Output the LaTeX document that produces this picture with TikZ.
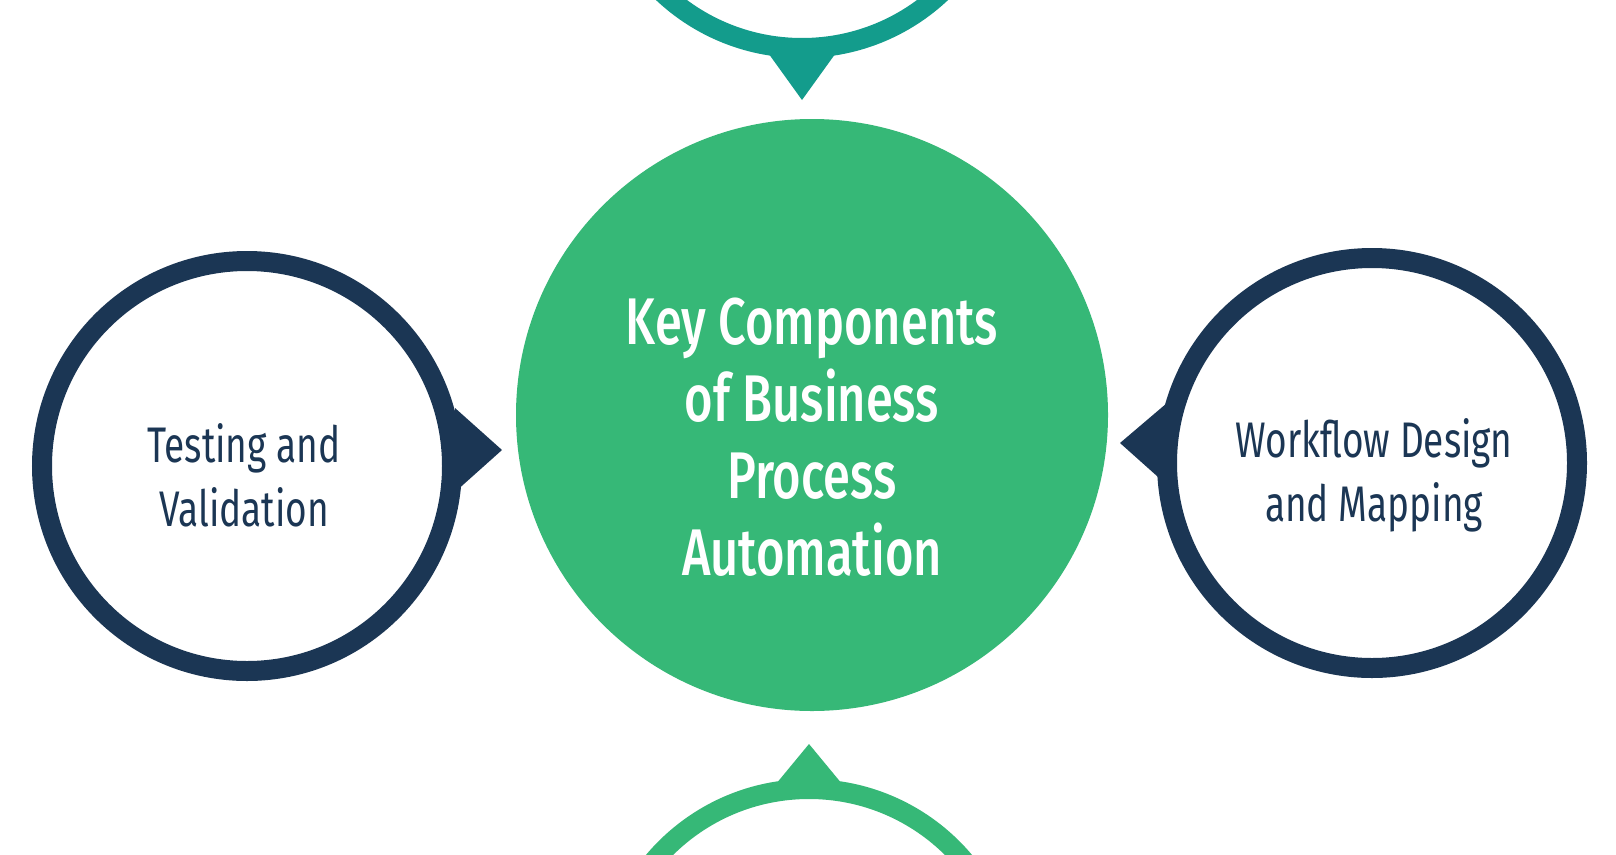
\documentclass[tikz,border=0pt]{standalone}
\usepackage{fontspec}
\setmainfont{Fira Sans}[FakeStretch=0.74]
\newfontfamily\medfont{Fira Sans Medium}[FakeStretch=0.74]
\definecolor{navy}{HTML}{1B3654}
\definecolor{green1}{HTML}{36B877}
\definecolor{teal1}{HTML}{139C8C}
\begin{document}
\begin{tikzpicture}[x=1pt,y=-1pt,
  ring/.style={draw=#1,line width=20pt,fill=white},
  side/.style={text=navy,font=\fontsize{50}{64}\selectfont,align=center}]
\useasboundingbox (0,0) rectangle (1616,854);
\fill[white] (0,0) rectangle (1616,854);
% top
\fill[teal1] (802,100) -- (766,50) -- (838,50) -- cycle;
\draw[ring=teal1] (802,-155) circle[radius=203];
% bottom
\fill[green1] (809,744) -- (771,790) -- (847,790) -- cycle;
\draw[ring=green1] (809,992) circle[radius=203];
% left
\fill[navy] (502,450) -- (455,408) -- (455,492) -- cycle;
\draw[ring=navy] (247,466) circle[radius=205];
\node[side] (l) at (244,475) {Testing and\\Validation};
% right
\fill[navy] (1120,443) -- (1167,403) -- (1167,485) -- cycle;
\draw[ring=navy] (1372,463) circle[radius=205];
\node[side] (r) at (1374,475) {Workflow Design\\and Mapping};
% center
\fill[green1] (812,415) circle[radius=296];
\node[text=white,font=\fontsize{66}{77}\medfont,align=center] (c) at (812,437)
 {Key Components\\of Business\\Process\\Automation};
\end{tikzpicture}
\end{document}
